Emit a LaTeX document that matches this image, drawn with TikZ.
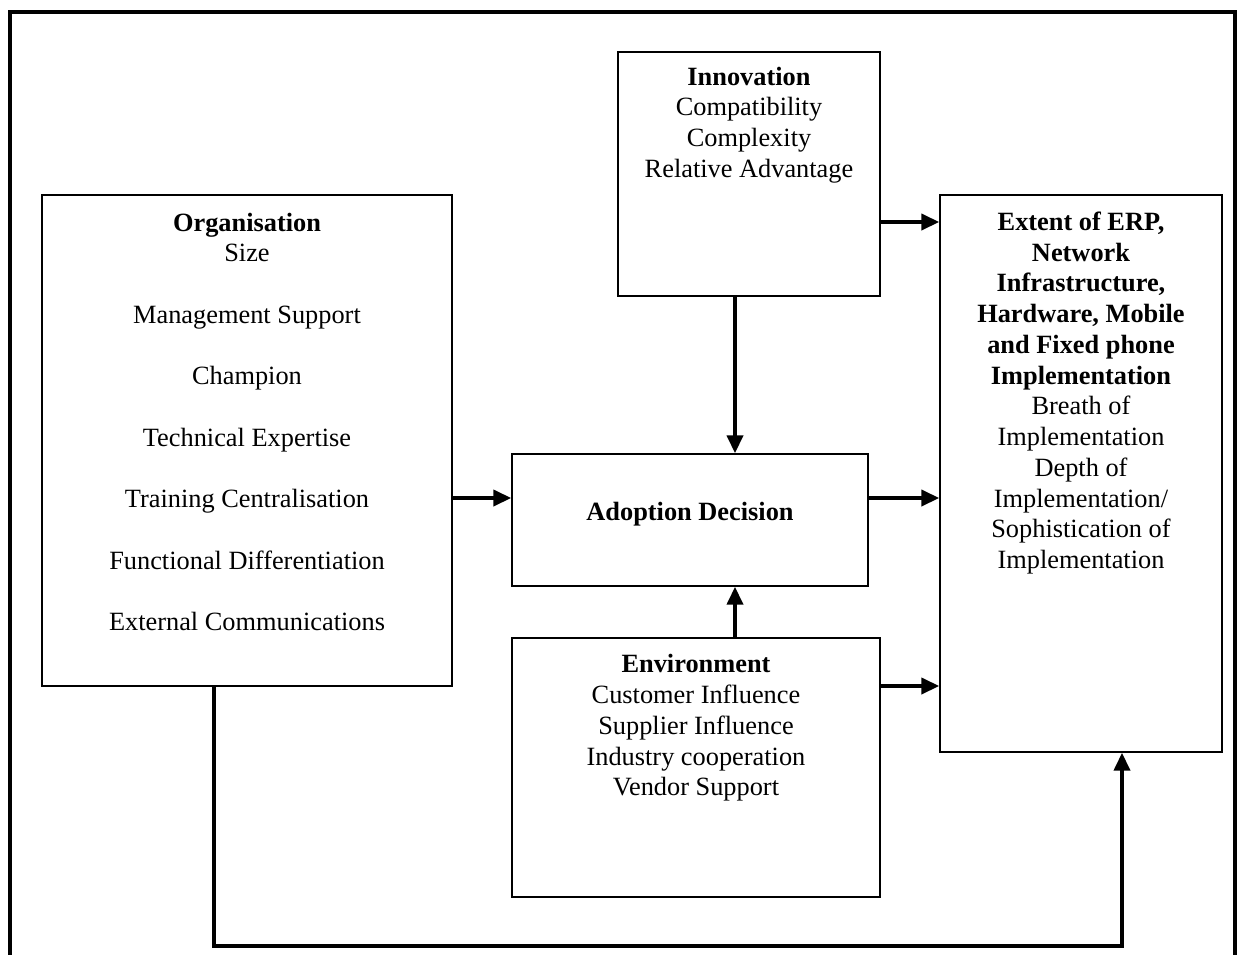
\documentclass[tikz,border=0pt]{standalone}
\usepackage{fontspec}
\setmainfont{Liberation Serif}
\usetikzlibrary{arrows.meta, positioning, calc, fit}
\tikzset{
  every picture/.style={line width=0.8pt},
  box/.style={draw=black, rectangle, inner sep=0pt, line width=0.8pt},
  boxtext/.style={align=center, inner sep=0pt, font=\fontsize{15}{17.5}\selectfont},
  arrow/.style={-{Triangle[length=3.6mm, width=3.2mm]}, draw=black, line width=2.2pt},
  frame/.style={draw=black, line width=2.6pt},
}

\begin{document}
\begin{tikzpicture}[x=0.02cm, y=-0.02cm]
  \useasboundingbox (0,0) rectangle (1241,954);
  \draw[frame] (10,960) -- (10,12) -- (1235,12) -- (1235,960);
  % boxes
  \node[box, fit={(42,195) (452,686)}] (org) {};
  \node[box, fit={(618,52) (880,296)}] (inno) {};
  \node[box, fit={(512,454) (868,586)}] (adopt) {};
  \node[box, fit={(512,638) (880,897)}] (env) {};
  \node[box, fit={(940,195) (1222,752)}] (ext) {};
  % texts
  \node[boxtext] (orgtext) at (247,422) {\textbf{Organisation}\\ Size\\[17.5pt]
    Management Support\\[17.5pt] Champion\\[17.5pt] Technical Expertise\\[17.5pt]
    Training Centralisation\\[17.5pt] Functional Differentiation\\[17.5pt]
    External Communications};
  \node[boxtext] (innotext) at (749,125) {\textbf{Innovation}\\ Compatibility\\
    Complexity\\ Relative Advantage};
  \node[boxtext] (adopttext) at (690,514) {\textbf{Adoption Decision}};
  \node[boxtext] (envtext) at (696,728) {\textbf{Environment}\\ Customer Influence\\
    Supplier Influence\\ Industry cooperation\\ Vendor Support};
  \node[boxtext] (exttext) at (1081,393) {\textbf{Extent of ERP,}\\ \textbf{Network}\\
    \textbf{Infrastructure,}\\ \textbf{Hardware, Mobile}\\ \textbf{and Fixed phone}\\
    \textbf{Implementation}\\ Breath of\\ Implementation\\ Depth of\\
    Implementation/\\ Sophistication of\\ Implementation};
  % helper coordinates
  \coordinate (rowa) at (0,222);
  \coordinate (rowb) at (0,498);
  \coordinate (rowc) at (0,686);
  \coordinate (midx) at (735,0);
  \coordinate (loopl) at (214,946);
  \coordinate (loopr) at (1122,946);
  % connectors
  \draw[arrow] (inno.east |- rowa) -- (ext.west |- rowa);
  \draw[arrow] (adopt.east |- rowb) -- (ext.west |- rowb);
  \draw[arrow] (env.east |- rowc) -- (ext.west |- rowc);
  \draw[arrow] (org.east |- rowb) -- (adopt.west |- rowb);
  \draw[arrow] (inno.south -| midx) -- (adopt.north -| midx);
  \draw[arrow] (env.north -| midx) -- (adopt.south -| midx);
  \draw[arrow] (org.south -| loopl) -- (loopl) -- (loopr) -- (ext.south -| loopr);
\end{tikzpicture}
\end{document}
